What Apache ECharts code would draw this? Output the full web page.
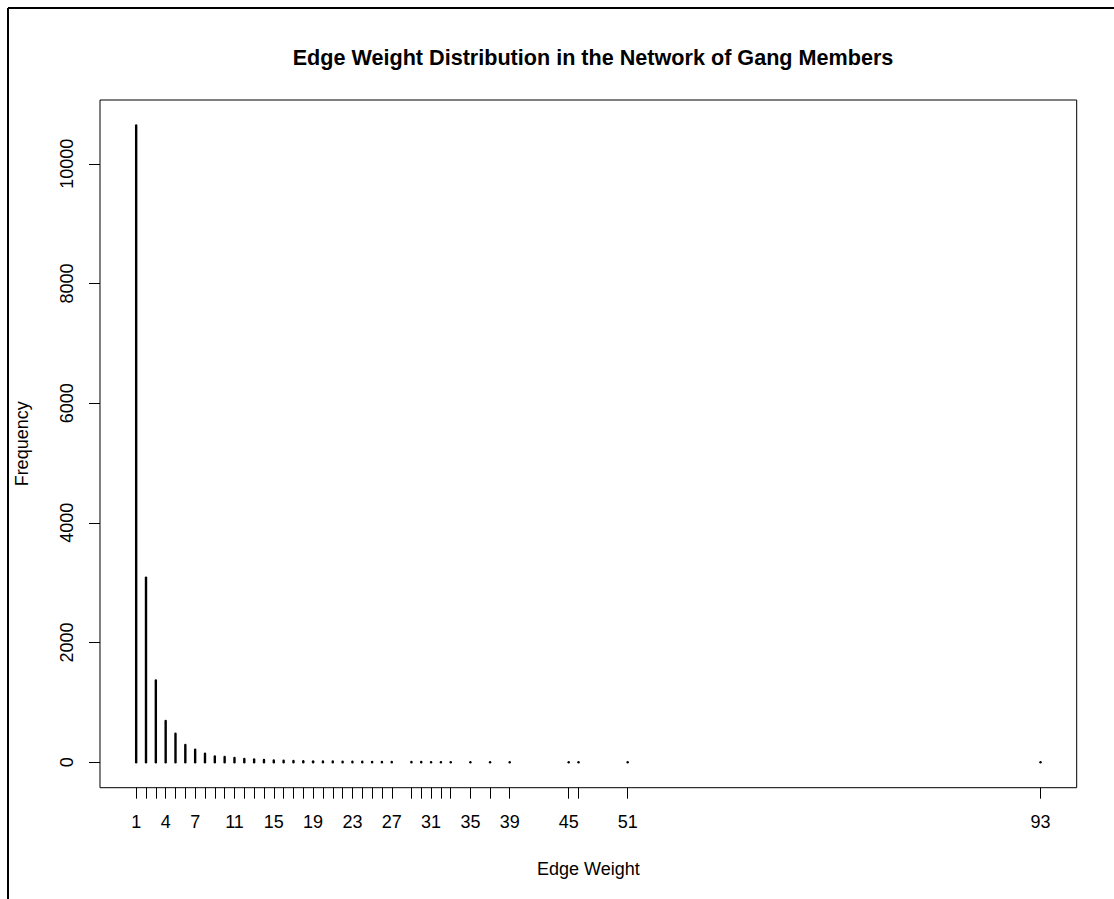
<!DOCTYPE html>
<html>
<head>
<meta charset="utf-8">
<script src="https://cdn.jsdelivr.net/npm/echarts@6/dist/echarts.min.js"></script>
<style>
html,body{margin:0;padding:0;background:#fff;}
#chart{width:1114px;height:899px;}
</style>
</head>
<body>
<div id="chart"></div>
<script>
// Edge weights (x) and their frequencies (y)
const weights = [1,2,3,4,5,6,7,8,9,10,11,12,13,14,15,16,17,18,19,20,21,22,23,24,25,26,27,29,30,31,32,33,35,37,39,45,46,51,93];
const frequencies = [10640,3085,1365,690,475,288,208,142,96,88,70,55,45,38,30,26,22,18,15,13,11,9,8,7,6,5,4,3,3,2,2,2,1,1,1,1,1,1,1];
const xTickLabels = [1,4,7,11,15,19,23,27,31,35,39,45,51,93];
const yTickLabels = [0,2000,4000,6000,8000,10000];

const titleText = 'Edge Weight Distribution in the Network of Gang Members';
const xTitle = 'Edge Weight';
const yTitle = 'Frequency';

const data = weights.map((w, i) => [w, frequencies[i]]);

// R-style 4% axis extension
const xMin = Math.min(...weights), xMax = Math.max(...weights);
const xPad = (xMax - xMin) * 0.04;
const yMax = Math.max(...frequencies);
const yPad = yMax * 0.04;

const chart = echarts.init(document.getElementById('chart'), null, {renderer: 'svg'});
const font = 'Liberation Sans, Arial, Helvetica, sans-serif';

chart.setOption({
  animation: false,
  backgroundColor: '#fff',
  title: {
    text: titleText,
    left: 588,
    top: 41,
    textAlign: 'center',
    textStyle: {fontFamily: font, fontSize: 21.6, fontWeight: 'bold', color: '#000'}
  },
  grid: {
    left: 100, right: 37.3, top: 100, bottom: 111.3,
    show: true, borderColor: '#000', borderWidth: 1, backgroundColor: 'transparent'
  },
  xAxis: {
    type: 'value',
    min: xMin - xPad,
    max: xMax + xPad,
    name: xTitle,
    nameLocation: 'middle',
    nameGap: 72,
    nameTextStyle: {fontFamily: font, fontSize: 18, color: '#000'},
    axisLine: {show: false, onZero: false},
    splitLine: {show: false},
    axisTick: {show: true, inside: false, length: 11, customValues: weights, lineStyle: {color: '#000', width: 1}},
    axisLabel: {show: true, customValues: xTickLabels, margin: 25, fontFamily: font, fontSize: 18, color: '#000',
      formatter: v => String(v)}
  },
  yAxis: {
    type: 'value',
    min: -yPad,
    max: yMax + yPad,
    name: yTitle,
    nameLocation: 'middle',
    nameRotate: 90,
    nameGap: 69,
    nameTextStyle: {fontFamily: font, fontSize: 18, color: '#000'},
    axisLine: {show: false, onZero: false},
    splitLine: {show: false},
    axisTick: {show: true, inside: false, length: 11, customValues: yTickLabels, lineStyle: {color: '#000', width: 1}},
    axisLabel: {show: true, customValues: yTickLabels, rotate: 90, margin: 24, fontFamily: font, fontSize: 18, color: '#000',
      formatter: v => String(v)}
  },
  graphic: [
    {type: 'line', shape: {x1: 8, y1: 8, x2: 1114, y2: 8}, style: {stroke: '#000', lineWidth: 2}},
    {type: 'line', shape: {x1: 8, y1: 8, x2: 8, y2: 899}, style: {stroke: '#000', lineWidth: 2}}
  ],
  series: [{
    type: 'custom',
    data: data,
    encode: {x: 0, y: 1},
    renderItem: function (params, api) {
      const x = api.value(0), y = api.value(1);
      const p0 = api.coord([x, 0]);
      const p1 = api.coord([x, y]);
      return {
        type: 'line',
        shape: {x1: p0[0], y1: p0[1], x2: p1[0], y2: p1[1]},
        style: {stroke: '#000', lineWidth: 2.4, lineCap: 'round'}
      };
    }
  }]
});
</script>
</body>
</html>
